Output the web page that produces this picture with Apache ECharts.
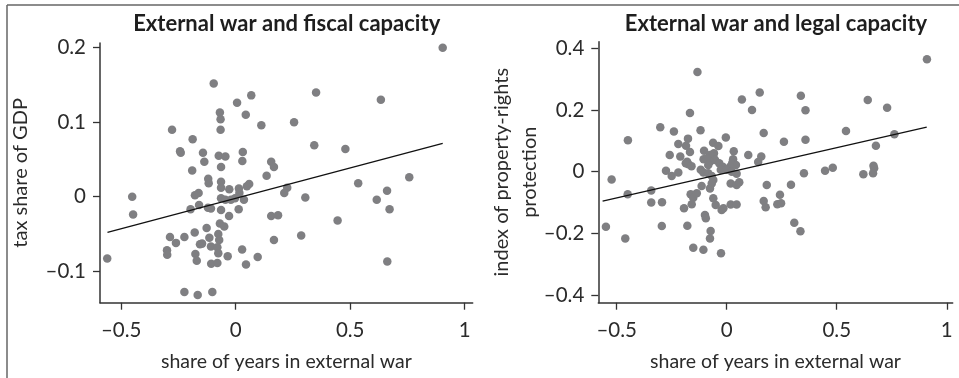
<!DOCTYPE html>
<html>
<head>
<meta charset="utf-8">
<script src="https://cdn.jsdelivr.net/npm/echarts@6/dist/echarts.min.js"></script>
<style>
html,body{margin:0;padding:0;background:#fff;}
#c{width:959px;height:378px;}
</style>
</head>
<body>
<div id="c"></div>
<script>
// ---- Data ----
const panelTitles = ['External war and fiscal capacity', 'External war and legal capacity'];
const xAxisName = 'share of years in external war';
const yAxisNames = ['tax share of GDP', 'index of property-rights\nprotection'];
const xTicks = [-0.5, 0, 0.5, 1];
const fiscalYTicks = [-0.1, 0, 0.1, 0.2];
const legalYTicks = [-0.4, -0.2, 0, 0.2, 0.4];

// [share of years in external war, tax share of GDP]
const fiscalPoints = [
[0.904,0.200],[-0.096,0.152],[0.068,0.136],[0.006,0.126],[0.351,0.140],[0.634,0.130],[-0.069,0.113],[-0.066,0.104],
[0.044,0.110],[0.255,0.100],[0.112,0.096],[-0.278,0.090],[-0.066,0.090],[-0.188,0.077],[0.343,0.069],[0.479,0.064],
[-0.243,0.061],[-0.240,0.059],[-0.143,0.059],[0.031,0.060],[-0.074,0.055],[-0.045,0.054],[-0.137,0.047],[0.029,0.048],
[0.155,0.047],[0.167,0.040],[-0.064,0.040],[-0.190,0.035],[0.758,0.026],[0.135,0.028],[-0.120,0.024],[-0.118,0.018],
[-0.064,0.020],[0.535,0.018],[0.059,0.017],[0.049,0.014],[-0.064,0.012],[-0.028,0.010],[0.014,0.011],[0.225,0.012],
[0.661,0.008],[0.016,0.005],[-0.162,0.005],[-0.178,0.002],[0.212,0.005],[-0.452,0.000],[0.304,-0.001],[-0.064,-0.002],
[-0.045,-0.004],[-0.021,-0.004],[-0.003,-0.002],[0.036,-0.004],[0.616,-0.004],[-0.160,-0.011],[-0.121,-0.015],[-0.197,-0.017],
[-0.108,-0.016],[-0.064,-0.018],[0.013,-0.017],[0.672,-0.017],[-0.448,-0.024],[0.155,-0.026],[0.185,-0.025],[-0.029,-0.026],
[-0.069,-0.036],[-0.050,-0.040],[-0.127,-0.042],[0.445,-0.032],[-0.179,-0.048],[-0.076,-0.050],[0.286,-0.052],[-0.287,-0.054],
[-0.224,-0.054],[-0.115,-0.055],[-0.072,-0.058],[0.167,-0.058],[-0.261,-0.062],[-0.156,-0.064],[-0.147,-0.063],[-0.108,-0.067],
[-0.080,-0.068],[-0.300,-0.072],[-0.299,-0.078],[0.028,-0.071],[-0.176,-0.077],[-0.076,-0.076],[-0.561,-0.083],[-0.035,-0.080],
[0.096,-0.081],[-0.170,-0.086],[0.662,-0.087],[-0.107,-0.090],[-0.080,-0.089],[0.045,-0.091],[-0.224,-0.128],[-0.166,-0.132],
[-0.102,-0.128]
];
// [share of years in external war, index of property-rights protection]
const legalPoints = [
[0.910,0.364],[-0.133,0.323],[0.150,0.256],[0.337,0.246],[0.069,0.234],[0.641,0.232],[0.115,0.200],[0.358,0.199],
[0.729,0.207],[-0.167,0.190],[-0.302,0.144],[-0.119,0.134],[-0.240,0.130],[0.542,0.132],[0.168,0.125],[0.762,0.121],
[-0.449,0.102],[-0.176,0.107],[-0.004,0.111],[0.358,0.103],[0.260,0.097],[-0.220,0.090],[-0.185,0.084],[-0.062,0.094],
[-0.038,0.083],[0.678,0.084],[-0.103,0.068],[-0.167,0.064],[0.032,0.066],[-0.259,0.054],[-0.211,0.049],[0.098,0.054],
[0.157,0.049],[0.143,0.031],[-0.180,0.032],[-0.174,0.024],[-0.186,0.027],[-0.160,0.018],[-0.058,0.060],[-0.076,0.054],
[-0.061,0.049],[-0.105,0.040],[-0.053,0.038],[-0.076,0.032],[-0.091,0.043],[-0.084,0.022],[-0.034,0.027],[-0.018,0.016],
[-0.027,0.006],[0.029,0.040],[0.025,0.027],[0.042,0.022],[0.015,0.016],[-0.118,0.006],[-0.106,-0.003],[-0.084,-0.005],
[-0.068,-0.014],[0.000,0.006],[0.023,0.000],[0.045,-0.007],[-0.276,0.003],[-0.250,-0.014],[-0.220,-0.003],[-0.523,-0.025],
[-0.114,-0.046],[-0.076,-0.054],[-0.061,-0.027],[-0.068,-0.038],[0.018,-0.038],[0.045,-0.043],[0.057,-0.034],[-0.343,-0.061],
[-0.450,-0.073],[-0.164,-0.073],[-0.152,-0.084],[-0.136,-0.070],[-0.061,-0.086],[-0.343,-0.100],[-0.294,-0.099],[-0.050,-0.108],
[-0.159,-0.105],[-0.194,-0.118],[-0.023,-0.124],[-0.015,-0.118],[0.018,-0.106],[0.045,-0.106],[-0.099,-0.140],[-0.095,-0.151],
[0.168,-0.095],[0.177,-0.115],[0.230,-0.105],[0.247,-0.102],[0.182,-0.043],[0.292,-0.042],[0.242,-0.075],[0.307,-0.165],
[0.335,-0.193],[0.351,-0.005],[0.447,0.003],[0.482,0.013],[0.621,-0.008],[0.667,0.019],[0.670,0.011],[0.665,-0.005],
[-0.549,-0.178],[-0.461,-0.216],[-0.295,-0.176],[-0.179,-0.175],[-0.073,-0.192],[-0.076,-0.216],[-0.152,-0.246],[-0.106,-0.253],
[-0.026,-0.264]
];
// fitted regression lines (end points)
const fiscalFitX = [-0.560, 0.904];
const fiscalFitY = [-0.048, 0.0717];
const legalFitX = [-0.564, 0.909];
const legalFitY = [-0.095, 0.144];

// ---- Chart ----
const FONT = 'Lato, "Open Sans", sans-serif';
const TXT = '#2b2b2b';
const AX = '#333';
const DOT = '#7f7f82';

function fmt(v){
  if (Math.abs(v) < 1e-9) return '0';
  return (v < 0 ? '\u2013' : '') + String(+Math.abs(v).toFixed(2));
}
function xAxis(gi, min, max){
  return {
    type:'value', gridIndex:gi, min:min, max:max,
    name:xAxisName, nameLocation:'middle', nameGap:49, nameMoveOverlap:false,
    nameTextStyle:{fontFamily:FONT, fontSize:19.5, color:TXT},
    axisLine:{show:true, onZero:false, lineStyle:{color:AX, width:1.5}},
    axisTick:{show:true, inside:false, length:7, customValues:xTicks, lineStyle:{color:AX, width:1.3}},
    axisLabel:{customValues:xTicks, formatter:fmt, margin:17, fontFamily:FONT, fontSize:20.5, color:TXT, showMinLabel:true, showMaxLabel:true},
    splitLine:{show:false}
  };
}
function yAxis(gi, min, max, ticks, name, gap){
  return {
    type:'value', gridIndex:gi, min:min, max:max,
    name:name, nameLocation:'middle', nameGap:gap, nameMoveOverlap:false,
    nameTextStyle:{fontFamily:FONT, fontSize:20, color:TXT, lineHeight:28, align:'center'},
    axisLine:{show:true, onZero:false, lineStyle:{color:AX, width:1.5}},
    axisTick:{show:true, inside:false, length:7, customValues:ticks, lineStyle:{color:AX, width:1.3}},
    axisLabel:{customValues:ticks, formatter:fmt, margin:14, fontFamily:FONT, fontSize:20.5, color:TXT},
    splitLine:{show:false}
  };
}

const chart = echarts.init(document.getElementById('c'), null, {renderer:'canvas'});
chart.setOption({
  animation:false,
  backgroundColor:'#fff',
  title:[
    {text:panelTitles[0], left:286.7, top:13, textAlign:'center', padding:0,
     textStyle:{fontFamily:FONT, fontSize:22, fontWeight:'bold', color:'#1e1e1e'}},
    {text:panelTitles[1], left:776, top:13, textAlign:'center', padding:0,
     textStyle:{fontFamily:FONT, fontSize:22, fontWeight:'bold', color:'#1e1e1e'}}
  ],
  grid:[
    {left:100, top:43, width:372.7, height:259.7, containLabel:false},
    {left:598.3, top:41.7, width:354.4, height:261, containLabel:false}
  ],
  xAxis:[ xAxis(0, -0.5926, 1.035), xAxis(1, -0.5836, 1.027) ],
  yAxis:[
    yAxis(0, -0.1423, 0.2063, fiscalYTicks, yAxisNames[0], 65),
    yAxis(1, -0.424, 0.4207, legalYTicks, yAxisNames[1], 55)
  ],
  series:[
    {type:'scatter', xAxisIndex:0, yAxisIndex:0, data:fiscalPoints, symbolSize:8.5,
     itemStyle:{color:DOT, opacity:1}, silent:true},
    {type:'line', xAxisIndex:0, yAxisIndex:0, data:fiscalFitX.map((x,i)=>[x,fiscalFitY[i]]),
     symbol:'none', lineStyle:{color:'#111', width:1.3}, silent:true},
    {type:'scatter', xAxisIndex:1, yAxisIndex:1, data:legalPoints, symbolSize:8.5,
     itemStyle:{color:DOT, opacity:1}, silent:true},
    {type:'line', xAxisIndex:1, yAxisIndex:1, data:legalFitX.map((x,i)=>[x,legalFitY[i]]),
     symbol:'none', lineStyle:{color:'#111', width:1.3}, silent:true}
  ],
  graphic:[
    {type:'line', shape:{x1:7, y1:5, x2:959, y2:5}, style:{stroke:'#666', lineWidth:1.5}},
    {type:'line', shape:{x1:7, y1:5, x2:7, y2:378}, style:{stroke:'#666', lineWidth:1.5}}
  ]
});
</script>
</body>
</html>
